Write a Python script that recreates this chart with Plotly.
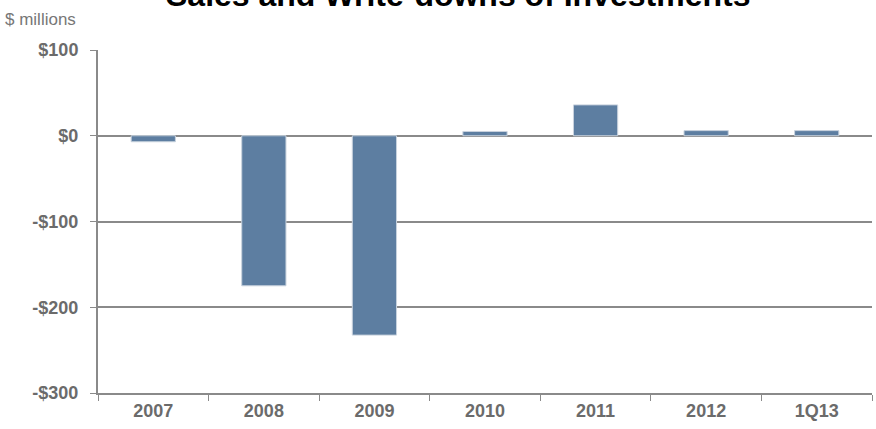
import plotly.graph_objects as go

categories = ["2007", "2008", "2009", "2010", "2011", "2012", "1Q13"]
values = [-7, -175, -232.5, 5, 36, 6, 6]
tick_vals = [100, 0, -100, -200, -300]
tick_text = ["$100", "$0", "-$100", "-$200", "-$300"]

FONT = "Liberation Sans, Arial, sans-serif"
GRID = "#8a8a8a"
LABEL = "#6b6b6b"

W, H = 876, 429
ML, MR, MT, MB = 98, 4, 50, 36

fig = go.Figure(go.Bar(
    x=categories, y=values, width=0.4,
    marker=dict(color="#5d7ea1", line=dict(color="#c9d3de", width=1)),
))

fig.update_layout(
    width=W, height=H,
    margin=dict(l=ML, r=MR, t=MT, b=MB),
    paper_bgcolor="white", plot_bgcolor="white",
    showlegend=False,
    font=dict(family=FONT),
    xaxis=dict(
        type="category", showline=True, linecolor=GRID, linewidth=2,
        ticks="outside", tickson="boundaries", ticklen=6, tickcolor=GRID, tickwidth=1,
        showgrid=False,
        tickfont=dict(family=FONT, size=18, color=LABEL, weight="bold"),
    ),
    yaxis=dict(
        range=[-300, 100], tickvals=tick_vals, ticktext=tick_text,
        showline=True, linecolor=GRID, linewidth=2,
        ticks="outside", ticklen=6, tickcolor=GRID, tickwidth=1,
        showgrid=True, gridcolor=GRID, gridwidth=2,
        zeroline=True, zerolinecolor=GRID, zerolinewidth=2,
        ticklabelstandoff=8,
        tickfont=dict(family=FONT, size=18, color=LABEL, weight="bold"),
    ),
)

pw = W - ML - MR
ph = H - MT - MB

fig.add_annotation(
    text="<b>Sales and Write-downs of Investments</b>",
    xref="paper", yref="paper",
    x=(458 - ML) / pw, y=(H - MB - 15) / ph,
    xanchor="center", yanchor="bottom", showarrow=False,
    font=dict(family=FONT, size=32, color="black"),
)
fig.add_annotation(
    text="$ millions",
    xref="paper", yref="paper",
    x=-(ML - 3) / pw, y=(H - MB - 19) / ph,
    xanchor="left", yanchor="middle", showarrow=False,
    font=dict(family=FONT, size=17, color="#777777"),
)

fig.write_html("out.html")
